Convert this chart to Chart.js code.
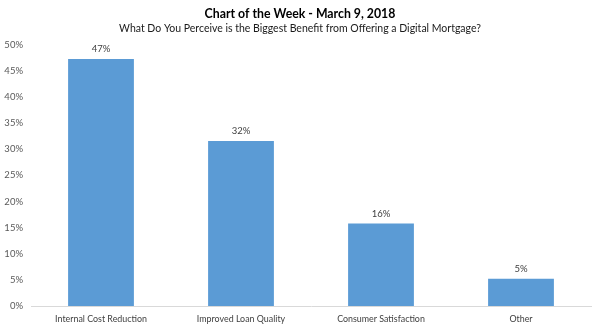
<!DOCTYPE html>
<html>
<head>
<meta charset="utf-8">
<script src="https://cdn.jsdelivr.net/npm/chart.js@4.4.1/dist/chart.umd.min.js"></script>
<style>
  html, body { margin: 0; padding: 0; background: #fff; }
  #wrap { width: 600px; height: 330px; }
</style>
</head>
<body>
<div id="wrap"><canvas id="c" width="600" height="330"></canvas></div>
<script>
const categories = ["Internal Cost Reduction", "Improved Loan Quality", "Consumer Satisfaction", "Other"];
const shares = [47.3, 31.6, 15.8, 5.2];
const shareLabels = ["47%", "32%", "16%", "5%"];
const yTicks = [0, 5, 10, 15, 20, 25, 30, 35, 40, 45, 50];

const FONT = "Lato, 'Open Sans', sans-serif";

const barLabels = {
  id: 'barLabels',
  afterDatasetsDraw(chart) {
    const ctx = chart.ctx;
    const meta = chart.getDatasetMeta(0);
    ctx.save();
    ctx.font = "9.5px " + FONT;
    ctx.fillStyle = "#404040";
    ctx.textAlign = "center";
    ctx.textBaseline = "middle";
    meta.data.forEach((bar, i) => {
      ctx.fillText(shareLabels[i], bar.x, bar.y - 10);
    });
    ctx.restore();
  }
};

new Chart(document.getElementById('c'), {
  type: 'bar',
  data: {
    labels: categories,
    datasets: [{
      data: shares,
      backgroundColor: '#5B9BD5',
      borderWidth: 0,
      barPercentage: 0.47,
      categoryPercentage: 1.0
    }]
  },
  options: {
    responsive: false,
    animation: false,
    devicePixelRatio: 1,
    layout: { padding: { left: 0, right: 0, top: 0, bottom: 0 } },
    plugins: {
      legend: { display: false },
      tooltip: { enabled: false },
      title: {
        display: true,
        text: "Chart of the Week - March 9, 2018",
        color: "#000",
        font: { family: FONT, size: 12.3, weight: 'bold', lineHeight: 1.2 },
        padding: { top: 7, bottom: 1 }
      },
      subtitle: {
        display: true,
        text: "What Do You Perceive is the Biggest Benefit from Offering a Digital Mortgage?",
        color: "#1a1a1a",
        font: { family: FONT, size: 10.5, lineHeight: 1.2 },
        padding: { top: 0, bottom: 9.5 }
      }
    },
    scales: {
      x: {
        grid: { display: false, drawTicks: false },
        border: { display: true, color: '#d9d9d9', width: 1 },
        ticks: {
          color: '#404040',
          font: { family: FONT, size: 8.9 },
          padding: 8,
          maxRotation: 0,
          autoSkip: false
        },
        afterFit(scale) { scale.height = 24; }
      },
      y: {
        min: 0,
        max: 50,
        grid: { display: false, drawTicks: false },
        border: { display: false },
        afterBuildTicks(scale) { scale.ticks = yTicks.map(v => ({ value: v })); },
        ticks: {
          color: '#595959',
          font: { family: FONT, size: 9.5 },
          padding: 8,
          callback: (v) => v + '%'
        },
        afterFit(scale) { scale.width = 31; }
      },
      yRight: {
        position: 'right',
        display: true,
        grid: { display: false, drawTicks: false },
        border: { display: false },
        ticks: { display: false },
        afterFit(scale) { scale.width = 9; }
      }
    }
  },
  plugins: [barLabels]
});
</script>
</body>
</html>
